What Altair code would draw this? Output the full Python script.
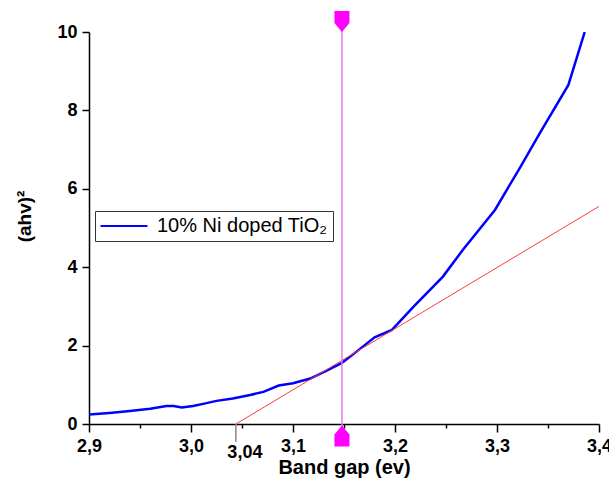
import altair as alt
import pandas as pd

# Tauc plot: (ahv)^2 versus photon energy for 10% Ni doped TiO2
energy_ev = [2.900, 2.920, 2.940, 2.960, 2.976, 2.983, 2.991, 3.002, 3.013, 3.025,
             3.041, 3.058, 3.071, 3.086, 3.100, 3.117, 3.133, 3.148, 3.162, 3.180,
             3.197, 3.218, 3.247, 3.267, 3.298, 3.323, 3.342, 3.370, 3.386]
ahv_sq = [0.24, 0.28, 0.33, 0.39, 0.46, 0.46, 0.42, 0.46, 0.52, 0.59,
          0.65, 0.74, 0.82, 0.98, 1.04, 1.16, 1.36, 1.56, 1.84, 2.21,
          2.40, 2.99, 3.76, 4.46, 5.46, 6.56, 7.42, 8.65, 10.0]
series_name = "10% Ni doped TiO₂"

# Linear fit of the absorption edge and its intercept with the energy axis
tangent_x = [3.044, 3.40]
tangent_y = [0.0, 5.55]
band_gap_estimate = 3.044
band_gap_label = "3,04"
cursor_x = 3.148

x_ticks = [2.9, 2.95, 3.0, 3.05, 3.1, 3.15, 3.2, 3.25, 3.3, 3.35, 3.4]
y_ticks = [0, 1, 2, 3, 4, 5, 6, 7, 8, 9, 10]

FONT = "Liberation Sans"
X_MAJOR = "abs(datum.value*10 - round(datum.value*10)) < 0.001"

curve_df = pd.DataFrame({"x": energy_ev, "y": ahv_sq, "series": series_name})
tangent_df = pd.DataFrame({"x": tangent_x, "y": tangent_y})
cursor_df = pd.DataFrame({"x": [cursor_x]})
gap_df = pd.DataFrame({"x": [band_gap_estimate], "label": [band_gap_label]})

x_scale = alt.Scale(domain=[2.9, 3.4], nice=False, zero=False)
y_scale = alt.Scale(domain=[0, 10], nice=False)

x_axis = alt.Axis(
    values=x_ticks,
    title="Band gap (ev)",
    titleFont=FONT, titleFontSize=20, titleFontWeight="bold", titleColor="black",
    titleY=33, titleBaseline="top",
    labelFont=FONT, labelFontSize=18, labelFontWeight="bold", labelColor="black",
    labelPadding=5, labelFlush=False, labelOverlap=False,
    labelExpr=f"{X_MAJOR} ? replace(format(datum.value, '.1f'), '.', ',') : ''",
    tickSize={"condition": {"test": X_MAJOR, "value": 8}, "value": 4},
    tickColor="black", tickWidth=1.5,
    domainColor="black", domainWidth=1.5,
    grid=False,
)
y_axis = alt.Axis(
    values=y_ticks,
    title="(ahv)²",
    titleFont=FONT, titleFontSize=19, titleFontWeight="bold", titleColor="black",
    titleX=-65, titleY=184, titleBaseline="middle", titleAngle=270,
    labelFont=FONT, labelFontSize=18, labelFontWeight="bold", labelColor="black",
    labelPadding=5, labelFlush=False, labelOverlap=False,
    labelExpr="datum.value % 2 == 0 ? datum.label : ''",
    tickSize={"condition": {"test": "datum.value % 2 == 0", "value": 7}, "value": 4},
    tickColor="black", tickWidth=1.5,
    domainColor="black", domainWidth=1.5,
    grid=False,
)

curve = alt.Chart(curve_df).mark_line(strokeWidth=2.5, clip=True).encode(
    x=alt.X("x:Q", scale=x_scale, axis=x_axis),
    y=alt.Y("y:Q", scale=y_scale, axis=y_axis),
    color=alt.Color(
        "series:N",
        scale=alt.Scale(domain=[series_name], range=["#0000FF"]),
        legend=alt.Legend(
            title=None, orient="none", legendX=6, legendY=179,
            strokeColor="#333333", padding=5, fillColor="white",
            symbolType="M-3,0L3,0", symbolSize=245, symbolStrokeWidth=2,
            symbolOffset=14,
            labelFont=FONT, labelFontSize=20, labelColor="black", labelOffset=23,
            labelLimit=400,
        ),
    ),
)

tangent = alt.Chart(tangent_df).mark_line(color="#FF3B3B", strokeWidth=1, clip=True).encode(
    x="x:Q", y="y:Q"
)

cursor_line = alt.Chart(cursor_df).mark_rule(color="#EE77EE", strokeWidth=1.5).encode(
    x="x:Q", y=alt.value(-10), y2=alt.value(404)
)
cursor_top = alt.Chart(cursor_df).mark_point(
    shape="M-1,-1.4L1,-1.4L1,0.2L0,1.4L-1,0.2Z", filled=True, color="#FF00FF",
    size=225, opacity=1,
).encode(x="x:Q", y=alt.value(-10.5))
cursor_bottom = alt.Chart(cursor_df).mark_point(
    shape="M-1,1.4L1,1.4L1,-0.2L0,-1.4L-1,-0.2Z", filled=True, color="#FF00FF",
    size=225, opacity=1,
).encode(x="x:Q", y=alt.value(404))

gap_tick = alt.Chart(gap_df).mark_rule(color="#888888", strokeWidth=1.5).encode(
    x="x:Q", y=alt.value(392), y2=alt.value(410)
)
gap_text = alt.Chart(gap_df).mark_text(
    font=FONT, fontSize=18, fontWeight="bold", color="black",
    align="center", baseline="alphabetic", dx=9,
).encode(x="x:Q", y=alt.value(426), text="label:N")

chart = (
    alt.layer(curve, tangent, cursor_line, cursor_top, cursor_bottom, gap_tick, gap_text)
    .properties(
        width=510, height=392,
        autosize=alt.AutoSizeParams(type="none"),
        padding={"left": 89, "top": 32, "right": 10, "bottom": 64},
        background="white",
    )
    .configure_view(stroke=None)
)

chart.save("out.html", embed_options={"renderer": "svg", "actions": False})
